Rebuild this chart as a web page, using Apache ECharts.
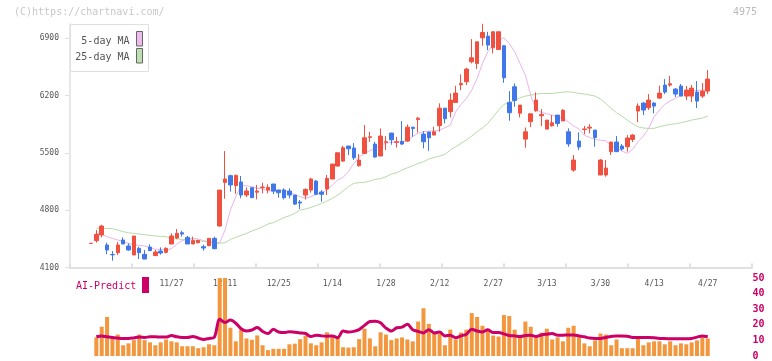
<!DOCTYPE html>
<html>
<head>
<meta charset="utf-8">
<script src="https://cdn.jsdelivr.net/npm/echarts@6/dist/echarts.min.js"></script>
<style>html,body{margin:0;padding:0;background:#fff;}#c{width:772px;height:361px;}</style>
</head>
<body>
<div id="c"></div>
<script>
const dates = ["11/5","11/6","11/7","11/10","11/11","11/12","11/13","11/14","11/17","11/18","11/19","11/20","11/21","11/25","11/26","11/27","11/28",
"12/1","12/2","12/3","12/4","12/5","12/8","12/9","12/10","12/11","12/12","12/15","12/16","12/17","12/18","12/19","12/22","12/23","12/24","12/25","12/26","12/29","12/30",
"1/5","1/6","1/7","1/8","1/9","1/13","1/14","1/15","1/16","1/19","1/20","1/21","1/22","1/23","1/26","1/27","1/28","1/29","1/30",
"2/2","2/3","2/4","2/5","2/6","2/9","2/10","2/12","2/13","2/16","2/17","2/18","2/19","2/20","2/24","2/25","2/26","2/27",
"3/2","3/3","3/4","3/5","3/6","3/9","3/10","3/11","3/12","3/13","3/16","3/17","3/18","3/19","3/23","3/24","3/25","3/26","3/27","3/30","3/31",
"4/1","4/2","4/3","4/6","4/7","4/8","4/9","4/10","4/13","4/14","4/15","4/16","4/17","4/20","4/21","4/22","4/23","4/24","4/27"];

const openP = [4395,4428,4497,4375,4259,4281,4436,4363,4253,4334,
4261,4350,4245,4301,4285,4387,4460,4525,4468,4387,
4403,4354,4367,4456,4607,5140,5222,5100,5145,4985,
5075,5020,5075,5046,5120,5046,5046,5034,4985,4900,
4985,5046,5156,5022,5059,5181,5339,5400,5584,5560,
5343,5494,5690,5608,5462,5630,5742,5630,5640,5645,
5815,5907,5730,5755,5718,5832,6047,6003,6117,6332,
6369,6613,6593,6906,6927,6784,6764,6809,6117,6308,
5986,5669,5881,6015,5954,5791,5832,5962,5891,5758,
5290,5645,5785,5803,5779,5230,5230,5515,5633,5584,
5576,5665,6011,6109,6052,6109,6170,6329,6329,6280,
6317,6194,6194,6243,6194,6255];
const closeP = [4395,4505,4607,4314,4255,4375,4387,4314,4485,4281,
4204,4306,4289,4277,4334,4485,4517,4509,4387,4428,
4430,4338,4456,4330,5046,5181,5108,5225,4985,5035,
4953,5034,5083,5079,5034,5014,4953,4985,4875,4888,
5054,5181,4994,4994,5189,5364,5502,5563,5550,5440,
5413,5685,5697,5450,5706,5637,5660,5636,5608,5815,
5797,5925,5636,5685,5758,6047,5917,6145,6231,6349,
6524,6662,6857,6971,6817,6980,6980,6418,5991,6141,
6084,5758,5978,6145,5970,5901,5868,5860,6021,5610,
5413,5572,5793,5815,5688,5413,5315,5633,5515,5547,
5682,5718,6072,6024,6146,6072,6231,6243,6345,6219,
6194,6268,6292,6133,6255,6402];
const lowP = [4390,4403,4468,4261,4183,4253,4387,4306,4253,4204,
4200,4306,4245,4257,4273,4387,4448,4477,4387,4387,
4395,4306,4360,4322,4599,4940,5026,5000,4945,4960,
4953,4932,5006,5006,4998,4953,4932,4945,4863,4814,
4932,5014,4994,4904,4985,5181,5339,5392,5473,5413,
5331,5486,5636,5441,5462,5535,5600,5565,5596,5636,
5697,5748,5555,5525,5718,5758,5860,5934,6117,6267,
6328,6593,6524,6809,6756,6715,6756,6357,5893,6064,
5934,5563,5815,6003,5828,5791,5820,5820,5889,5575,
5270,5535,5728,5740,5575,5230,5210,5474,5515,5527,
5515,5633,5877,5962,6024,5983,6158,6219,6308,6182,
6194,6146,6121,6048,6170,6219];
const highP = [4400,4558,4623,4403,4301,4411,4468,4395,4485,4354,
4314,4383,4314,4346,4346,4517,4570,4550,4485,4477,
4440,4379,4456,4477,5046,5522,5234,5235,5218,5079,
5075,5110,5136,5116,5120,5046,5067,5067,4985,4924,
5067,5197,5169,5046,5230,5364,5502,5586,5584,5620,
5486,5840,5758,5636,5799,5706,5746,5697,5889,5848,
5815,5940,5766,5758,5820,6105,6047,6227,6320,6459,
6540,6890,6857,7077,6980,6980,6980,6817,6255,6349,
6084,5811,5978,6239,6035,5901,5962,5962,6035,5800,
5474,5750,5830,5852,5779,5425,5413,5633,5706,5608,
5718,5730,6105,6121,6219,6121,6321,6402,6439,6292,
6341,6317,6329,6378,6353,6512];

const ma5 = [null,4517,4509,4477,4456,4436,4415,4395,4375,4371,
4363,4346,4322,4322,4314,4330,4387,4428,4448,4456,
4448,4428,4415,4403,4403,4558,4802,4965,5099,5099,
5087,5070,5059,5038,5030,5046,5046,5022,4993,4965,
4945,4965,4993,5014,5046,5107,5168,5201,5270,5372,
5450,5494,5527,5555,5596,5618,5630,5630,5636,5650,
5700,5740,5760,5767,5767,5779,5807,5840,6003,6092,
6166,6267,6410,6593,6735,6825,6878,6906,6837,6735,
6593,6450,6206,6023,5995,5978,5962,5942,5920,5880,
5830,5790,5715,5690,5663,5655,5649,5588,5564,5523,
5494,5543,5637,5706,5800,5942,6024,6093,6137,6166,
6207,6235,6260,6260,6268,6276];
const ma25 = [null,4578,4578,4578,4574,4558,4538,4525,4517,4509,
4501,4493,4485,4481,4477,4456,4448,4444,4440,4436,
4428,4419,4411,4403,4395,4403,4444,4468,4493,4517,
4546,4570,4599,4631,4648,4680,4709,4733,4762,4802,
4814,4835,4855,4884,4912,4945,4985,5034,5087,5128,
5136,5140,5156,5177,5185,5209,5242,5258,5291,5319,
5343,5372,5392,5425,5445,5461,5482,5535,5575,5616,
5657,5706,5758,5807,5860,5942,6023,6092,6117,6137,
6174,6194,6206,6219,6227,6227,6227,6235,6243,6247,
6239,6227,6219,6207,6194,6158,6105,6044,5991,5950,
5901,5857,5820,5804,5800,5800,5820,5836,5848,5857,
5869,5885,5901,5913,5926,5950];

const volume = [null,11.9,18.75,25,11.25,13.75,6.9,8.1,10.2,13.75,
10.2,8.75,6.9,8.75,10.6,9.4,8.75,6.25,6.25,6.25,
5,5.6,7.5,6.9,50,50,18.1,9.4,16.9,11.25,
10.4,13.2,6.9,3.75,4.6,4.6,4.6,7.5,7.9,10.8,
12.9,8.1,6.9,8.75,15.2,12.9,11.7,5.6,5.4,5.6,
10.8,17.5,11.25,6.25,15.2,13.75,10.2,11.25,11.9,10.6,
9.4,22.1,30.6,20.6,14.4,14.4,6.9,16.9,10.6,15,
16.9,27.5,25,19.4,17.5,13.1,12.5,26.25,25.6,16.9,
12.1,22.1,18.75,11.9,15,17.5,10.6,11.9,9.4,18.1,
19.4,12.5,8.1,6.25,10,14.4,13.75,6.9,10.6,5,
5,5,11.25,6.9,8.75,9.4,9.4,7.5,9.4,6.9,
8.1,7.5,8.75,10,11.9,11.25];
const aiPredict = [null,12.3,12.9,12.3,11.9,11.5,11.25,11.25,11.6,12.1,
11.9,12.3,12.3,12.1,12.1,13.1,12.3,11.9,11.9,12.5,
11.5,10.6,11.25,12,23.5,21.5,23,21,17.5,16,
16.7,18.2,15.8,14.4,17.1,15.4,15,15.6,15.2,14.8,
14.4,12.5,13.3,12.9,12.7,12.9,11.7,16,15.4,15.8,
16.9,19.6,22.1,22.3,21.25,17.9,16,18.1,18.5,20.4,
16.9,15.8,14.8,16.9,14.8,15.4,12.9,13.3,11.7,12.9,
14,17.1,16,15.4,16.9,15,15,14.2,13.1,12.9,
12.5,13.1,13.3,12.5,13.5,14,14.4,13.3,13.3,13.5,
13.5,12.9,12.3,11.5,11.25,11.25,11.9,12.5,12.9,12.9,
12.7,11.9,11.9,11.9,11.9,11.7,11.25,11.25,11,11,
11,11,11.25,12.1,12.9,12.3];

const priceTicks = [4100,4800,5500,6200,6900];
const aiTicks = [0,10,20,30,40,50];

const candles = openP.map((o, i) => [o, closeP[i], lowP[i], highP[i]]);

const MONO = "'DejaVu Sans Mono', monospace";
const AX = '#e0e0e0';
const TOP = 24, BOT = 93.5;
const CL = 88.3, CR = 61.6;

const chart = echarts.init(document.getElementById('c'), null, {renderer: 'canvas'});
chart.setOption({
  animation: false,
  backgroundColor: '#ffffff',
  grid: [
    {left: 70, right: 20, top: TOP, bottom: BOT},
    {left: CL, right: CR, top: TOP, bottom: BOT},
    {left: CL, right: CR, top: 278, bottom: 3}
  ],
  xAxis: [
    {type: 'value', gridIndex: 0, min: 0, max: 11, interval: 1,
     axisLine: {show: true, lineStyle: {color: AX, width: 2}},
     axisTick: {show: true, inside: true, length: 4, lineStyle: {color: AX, width: 2}},
     axisLabel: {show: false}, splitLine: {show: false}},
    {type: 'category', gridIndex: 1, data: dates, boundaryGap: true,
     axisLine: {show: false}, axisTick: {show: false}, splitLine: {show: false},
     axisLabel: {show: true, interval: (idx) => idx >= 15 && idx % 10 === 5, margin: 12,
       color: '#555', fontFamily: MONO, fontSize: 8}},
    {type: 'category', gridIndex: 2, data: dates, boundaryGap: true, show: false}
  ],
  yAxis: [
    {type: 'value', gridIndex: 0, min: 4100, max: 7075,
     axisLine: {show: true, lineStyle: {color: AX, width: 1.5}},
     axisTick: {show: true, length: 5, customValues: priceTicks, lineStyle: {color: AX}},
     axisLabel: {show: true, customValues: priceTicks, margin: 11, color: '#555',
       fontFamily: MONO, fontSize: 8, formatter: (v) => String(v)},
     splitLine: {show: false}},
    {type: 'value', gridIndex: 1, min: 4100, max: 7075, show: false, splitLine: {show: false}},
    {type: 'value', gridIndex: 2, min: 0, max: 50, interval: 10, position: 'right',
     axisLine: {show: false}, axisTick: {show: false}, splitLine: {show: false},
     axisLabel: {show: true, customValues: aiTicks, margin: 42, align: 'left', color: '#cc0066',
       fontFamily: MONO, fontSize: 10, fontWeight: 'bold', formatter: (v) => String(v)}}
  ],
  series: [
    {type: 'candlestick', xAxisIndex: 1, yAxisIndex: 1, data: candles, barWidth: 4,
     itemStyle: {color: '#f05040', color0: '#4078ea', borderColor: '#f05040', borderColor0: '#4078ea', borderWidth: 1},
     z: 3},
    {type: 'line', xAxisIndex: 1, yAxisIndex: 1, data: ma5, showSymbol: false, connectNulls: false,
     lineStyle: {color: '#e8b4ec', width: 1}, z: 2},
    {type: 'line', xAxisIndex: 1, yAxisIndex: 1, data: ma25, showSymbol: false,
     lineStyle: {color: '#b6dca8', width: 1}, z: 2},
    {type: 'bar', xAxisIndex: 2, yAxisIndex: 2, data: volume, barWidth: 4,
     itemStyle: {color: '#f2973e'}, z: 2},
    {type: 'line', xAxisIndex: 2, yAxisIndex: 2, data: aiPredict, showSymbol: false, smooth: 0.3,
     lineStyle: {color: '#cc0066', width: 3}, z: 3}
  ],
  graphic: [
    {type: 'text', left: 14, top: 7, z: 100, style: {text: '(C)https://chartnavi.com/', fill: '#c8c8c8', font: '10px ' + MONO}},
    {type: 'text', left: 733, top: 7, z: 100, style: {text: '4975', fill: '#bbbbbb', font: '10px ' + MONO}},
    {type: 'rect', z: 100, shape: {x: 70.5, y: 24.5, width: 78, height: 47}, style: {fill: '#ffffff', stroke: '#e0e0e0', lineWidth: 1}},
    {type: 'text', z: 101, x: 129.5, y: 41, style: {text: '5-day MA', fill: '#555', font: '10px ' + MONO, align: 'right', verticalAlign: 'middle'}},
    {type: 'rect', z: 101, shape: {x: 136.5, y: 31.5, width: 6, height: 14.5}, style: {fill: '#eebbee', stroke: '#666', lineWidth: 1}},
    {type: 'text', z: 101, x: 129.5, y: 57.5, style: {text: '25-day MA', fill: '#555', font: '10px ' + MONO, align: 'right', verticalAlign: 'middle'}},
    {type: 'rect', z: 101, shape: {x: 136.5, y: 48.5, width: 6, height: 14.5}, style: {fill: '#bde0b0', stroke: '#666', lineWidth: 1}},
    {type: 'text', z: 101, x: 76, y: 286, style: {text: 'AI-Predict', fill: '#cc0066', font: '10px ' + MONO, verticalAlign: 'middle'}},
    {type: 'rect', z: 101, shape: {x: 142, y: 277, width: 7, height: 16}, style: {fill: '#cc0066'}}
  ]
});
</script>
</body>
</html>
